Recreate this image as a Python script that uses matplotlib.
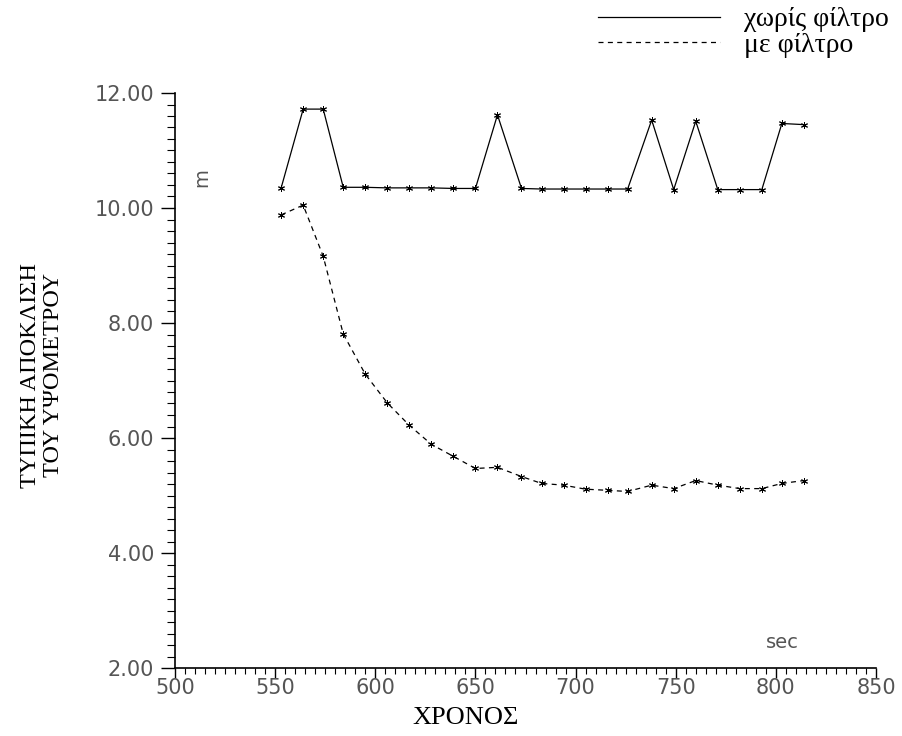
import matplotlib
matplotlib.use('Agg')
import matplotlib.pyplot as plt
from matplotlib.ticker import MultipleLocator, FormatStrFormatter

# χρόνος (sec)
xronos = [553, 564, 574, 584, 595, 606, 617, 628, 639, 650, 661, 673, 683,
          694, 705, 716, 726, 738, 749, 760, 771, 782, 793, 803, 814]

# τυπική απόκλιση χωρίς φίλτρο
xoris_filtro = [10.35, 11.72, 11.72, 10.36, 10.36, 10.35, 10.35, 10.35, 10.34,
                10.34, 11.62, 10.34, 10.33, 10.33, 10.33, 10.33, 10.33, 11.53,
                10.32, 11.51, 10.32, 10.32, 10.32, 11.47, 11.45]

# τυπική απόκλιση με φίλτρο
me_filtro = [9.88, 10.05, 9.16, 7.81, 7.11, 6.61, 6.22, 5.89, 5.68, 5.47, 5.49,
             5.33, 5.21, 5.18, 5.11, 5.09, 5.07, 5.18, 5.12, 5.26, 5.18, 5.12,
             5.12, 5.21, 5.26]

serif = ['Liberation Serif', 'DejaVu Serif']
tick_col = '#555555'

fig = plt.figure(figsize=(9.03, 7.36), dpi=100)
ax = fig.add_axes([175 / 903, 1 - 668 / 736, 701 / 903, 575 / 736])

star = (6, 2, 0)
ax.plot(xronos, xoris_filtro, color='black', lw=0.9,
        marker=star, ms=5, mew=0.7)
ax.plot(xronos, me_filtro, color='black', lw=0.9, dashes=(4, 3.5),
        marker=star, ms=5, mew=0.7)

ax.set_xlim(500, 850)
ax.set_ylim(2, 12)

ax.xaxis.set_major_locator(MultipleLocator(50))
ax.xaxis.set_minor_locator(MultipleLocator(5))
ax.yaxis.set_major_locator(MultipleLocator(2))
ax.yaxis.set_minor_locator(MultipleLocator(0.2))
ax.yaxis.set_major_formatter(FormatStrFormatter('%.2f'))

for s in ['top', 'right']:
    ax.spines[s].set_visible(False)
for s in ['left', 'bottom']:
    ax.spines[s].set_linewidth(1.2)

ax.tick_params(axis='y', which='major', length=10, width=1.0, pad=5,
               labelsize=15, labelcolor=tick_col)
ax.tick_params(axis='y', which='minor', length=6, width=0.8)
ax.tick_params(axis='x', which='major', length=7, width=1.0, pad=0,
               labelsize=15, labelcolor=tick_col)
ax.tick_params(axis='x', which='minor', length=4, width=0.8)

# άξονες
fig.text(466 / 903, 1 - 718 / 736, 'ΧΡΟΝΟΣ', family=serif, fontsize=19,
         ha='center', va='center')
fig.text(42 / 903, 1 - 375 / 736, 'ΤΥΠΙΚΗ ΑΠΟΚΛΙΣΗ\nΤΟΥ ΥΨΟΜΕΤΡΟΥ', family=serif,
         fontsize=17.5, rotation=90, ha='center', va='center',
         multialignment='center', linespacing=1.15)

# μονάδες
fig.text(782 / 903, 1 - 643 / 736, 'sec', fontsize=14, color=tick_col,
         ha='center', va='center')
fig.text(202 / 903, 1 - 178 / 736, 'm', fontsize=14, color=tick_col,
         rotation=90, ha='center', va='center')

# υπόμνημα
h1 = plt.Line2D([], [], color='black', lw=0.9)
h2 = plt.Line2D([], [], color='black', lw=0.9, dashes=(4, 3.5))
fig.legend([h1, h2], ['χωρίς φίλτρο', 'με φίλτρο'], loc='upper left',
           bbox_to_anchor=(598 / 903, 1 - 7 / 736), frameon=False,
           prop={'family': serif, 'size': 20}, handlelength=4.4,
           handletextpad=0.85, labelspacing=0.0, borderpad=0,
           borderaxespad=0)

fig.savefig('out.png', dpi=100)
